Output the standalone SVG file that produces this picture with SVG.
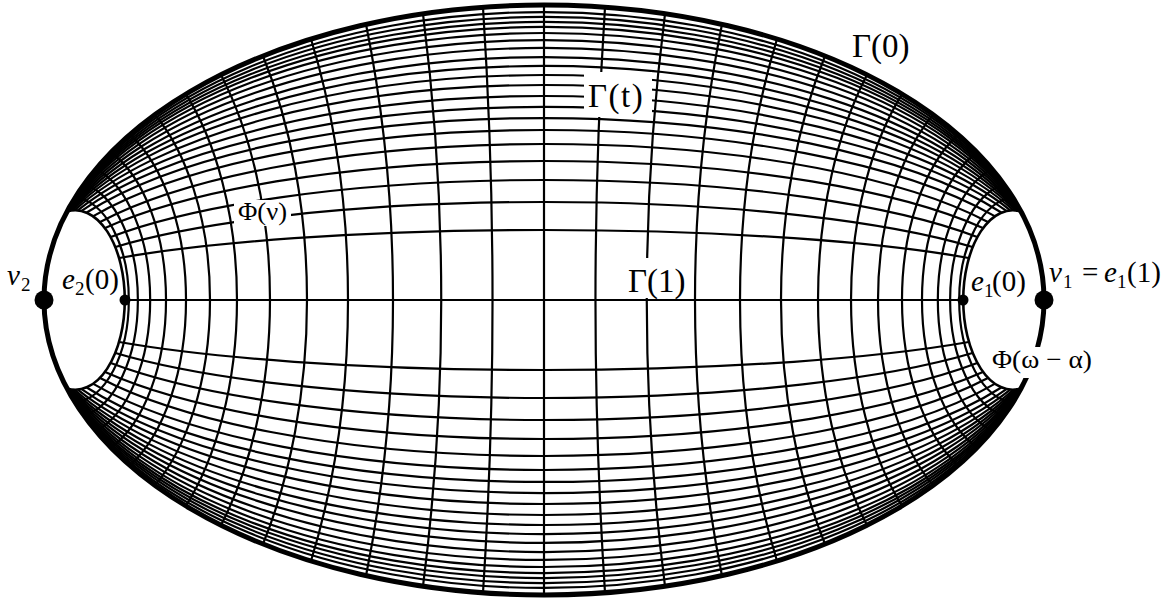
<svg xmlns="http://www.w3.org/2000/svg" xmlns:xlink="http://www.w3.org/1999/xlink" width="1174" height="600" viewBox="0 0 1174 600">
<style>
.g{fill:none;stroke:#000;stroke-width:2.2}
.hole{stroke-width:2.6}
.outer{fill:none;stroke:#000;stroke-width:5}
.t{font-family:"Liberation Serif","Times New Roman",serif;fill:#000}
.it{font-style:italic}
.box{fill:#fff}
.dot{fill:#000}
</style>
<rect width="1174" height="600" fill="#fff"/>
<g id="grid">
 <g id="gamma-upper" class="g">
  <path d="M119.25 257.97 A531.1 70 0 0 1 968.75 257.97"/>
  <path d="M115.46 246.95 A509.7 98 0 0 1 972.54 246.95"/>
  <path d="M110.76 236.93 A509.2 120 0 0 1 977.24 236.93"/>
  <path d="M105.1 227.96 A513.2 139 0 0 1 982.9 227.96"/>
  <path d="M100.08 222 A512.6 156 0 0 1 987.92 222"/>
  <path d="M93.3 216.16 A518.1 170 0 0 1 994.7 216.16"/>
  <path d="M86.7 212.49 A521.6 182 0 0 1 1001.3 212.49"/>
  <path d="M81.59 210.86 A521.3 193 0 0 1 1006.41 210.86"/>
  <path d="M77.72 210.28 A519.2 204 0 0 1 1010.28 210.28"/>
  <path d="M74.71 210.22 A516.5 215 0 0 1 1013.29 210.22"/>
  <path d="M72.56 210.37 A514 225 0 0 1 1015.44 210.37"/>
  <path d="M71.01 210.59 A511.8 234 0 0 1 1016.99 210.59"/>
  <path d="M69.81 210.82 A509.8 243 0 0 1 1018.19 210.82"/>
  <path d="M68.96 211.02 A507.7 252 0 0 1 1019.04 211.02"/>
  <path d="M68.27 211.2 A506.2 260 0 0 1 1019.73 211.2"/>
  <path d="M67.85 211.31 A504.8 267 0 0 1 1020.15 211.31"/>
  <path d="M67.51 211.41 A503.7 273 0 0 1 1020.49 211.41"/>
  <path d="M67.25 211.49 A502.9 278 0 0 1 1020.75 211.49"/>
  <path d="M67.12 211.53 A502 283 0 0 1 1020.88 211.53"/>
  <path d="M67.04 211.55 A501.2 288 0 0 1 1020.96 211.55"/>
 </g>
 <use xlink:href="#gamma-upper" href="#gamma-upper" transform="matrix(1 0 0 -1 0 600)"/>
 <g id="phi-right" class="g">
  <path d="M605 592.8 A1372 2493 0 0 1 605 7.2"/>
  <path d="M665 586.2 A698.5 1269 0 0 1 665 13.8"/>
  <path d="M722 575.7 A440 799.3 0 0 1 722 24.3"/>
  <path d="M777 561 A297.5 540.4 0 0 1 777 39"/>
  <path d="M825 544 A227 412.4 0 0 1 825 56"/>
  <path d="M867 525.2 A181.3 329.4 0 0 1 867 74.8"/>
  <path d="M902 505.9 A151.5 275.2 0 0 1 902 94.1"/>
  <path d="M933 485.3 A122.1 221.8 0 0 1 933 114.7"/>
  <path d="M958 465.4 A102 185.3 0 0 1 958 134.6"/>
  <path d="M977 447.5 A87.4 158.8 0 0 1 977 152.5"/>
  <path d="M992 431 A75.1 136.4 0 0 1 992 169"/>
  <path d="M1004 415.6 A64.5 117.2 0 0 1 1004 184.4"/>
  <path d="M1013 402.3 A56.3 102.4 0 0 1 1013 197.7"/>
  <path class="hole" d="M1021 388.4 A49.4 89.7 0 1 1 1021 211.6"/>
 </g>
 <use xlink:href="#phi-right" href="#phi-right" transform="matrix(-1 0 0 1 1088 0)"/>
 <line class="g" x1="544" y1="5" x2="544" y2="595"/>
 <line class="g" x1="124.8" y1="300" x2="963.2" y2="300"/>
</g>
<ellipse id="gamma0" class="outer" cx="544" cy="300" rx="500" ry="295"/>
<g id="label-boxes">
 <rect class="box" x="584" y="72" width="68" height="45"/>
 <rect class="box" x="624" y="258" width="68" height="40"/>
 <rect class="box" x="234" y="200" width="57" height="26"/>
 <rect class="box" x="991" y="347" width="106" height="31"/>
</g>
<g id="v2"><circle class="dot" cx="44" cy="300" r="9.5"/>
 <text class="t" font-size="29"><tspan class="it" x="7" y="285">v</tspan><tspan x="21" y="291" font-size="19">2</tspan></text></g>
<g id="e2"><circle class="dot" cx="125" cy="300" r="5.5"/>
 <text class="t" font-size="29"><tspan class="it" x="62" y="289">e</tspan><tspan x="75" y="295" font-size="19">2</tspan><tspan x="85" y="289">(0)</tspan></text></g>
<g id="e1"><circle class="dot" cx="963" cy="300" r="5.5"/>
 <text class="t" font-size="29"><tspan class="it" x="971" y="291">e</tspan><tspan x="984" y="297" font-size="19">1</tspan><tspan x="992" y="291">(0)</tspan></text></g>
<g id="v1"><circle class="dot" cx="1044" cy="300" r="9.5"/>
 <text class="t" font-size="29"><tspan class="it" x="1049" y="282">v</tspan><tspan x="1063" y="288" font-size="19">1</tspan><tspan x="1082" y="282">=</tspan><tspan class="it" x="1104" y="282">e</tspan><tspan x="1117" y="288" font-size="19">1</tspan><tspan x="1127" y="282">(1)</tspan></text></g>
<g id="labels">
 <text class="t" x="852" y="57" font-size="33">Γ(0)</text>
 <text class="t" x="588" y="107" font-size="33" letter-spacing="1.5">Γ(t)</text>
 <text class="t" x="628" y="292" font-size="33">Γ(1)</text>
 <text class="t" x="238" y="220" font-size="25" textLength="49" lengthAdjust="spacingAndGlyphs">Φ(ν)</text>
 <text class="t" x="992" y="368" font-size="26" textLength="100" lengthAdjust="spacingAndGlyphs">Φ(ω − α)</text>
</g>
</svg>
